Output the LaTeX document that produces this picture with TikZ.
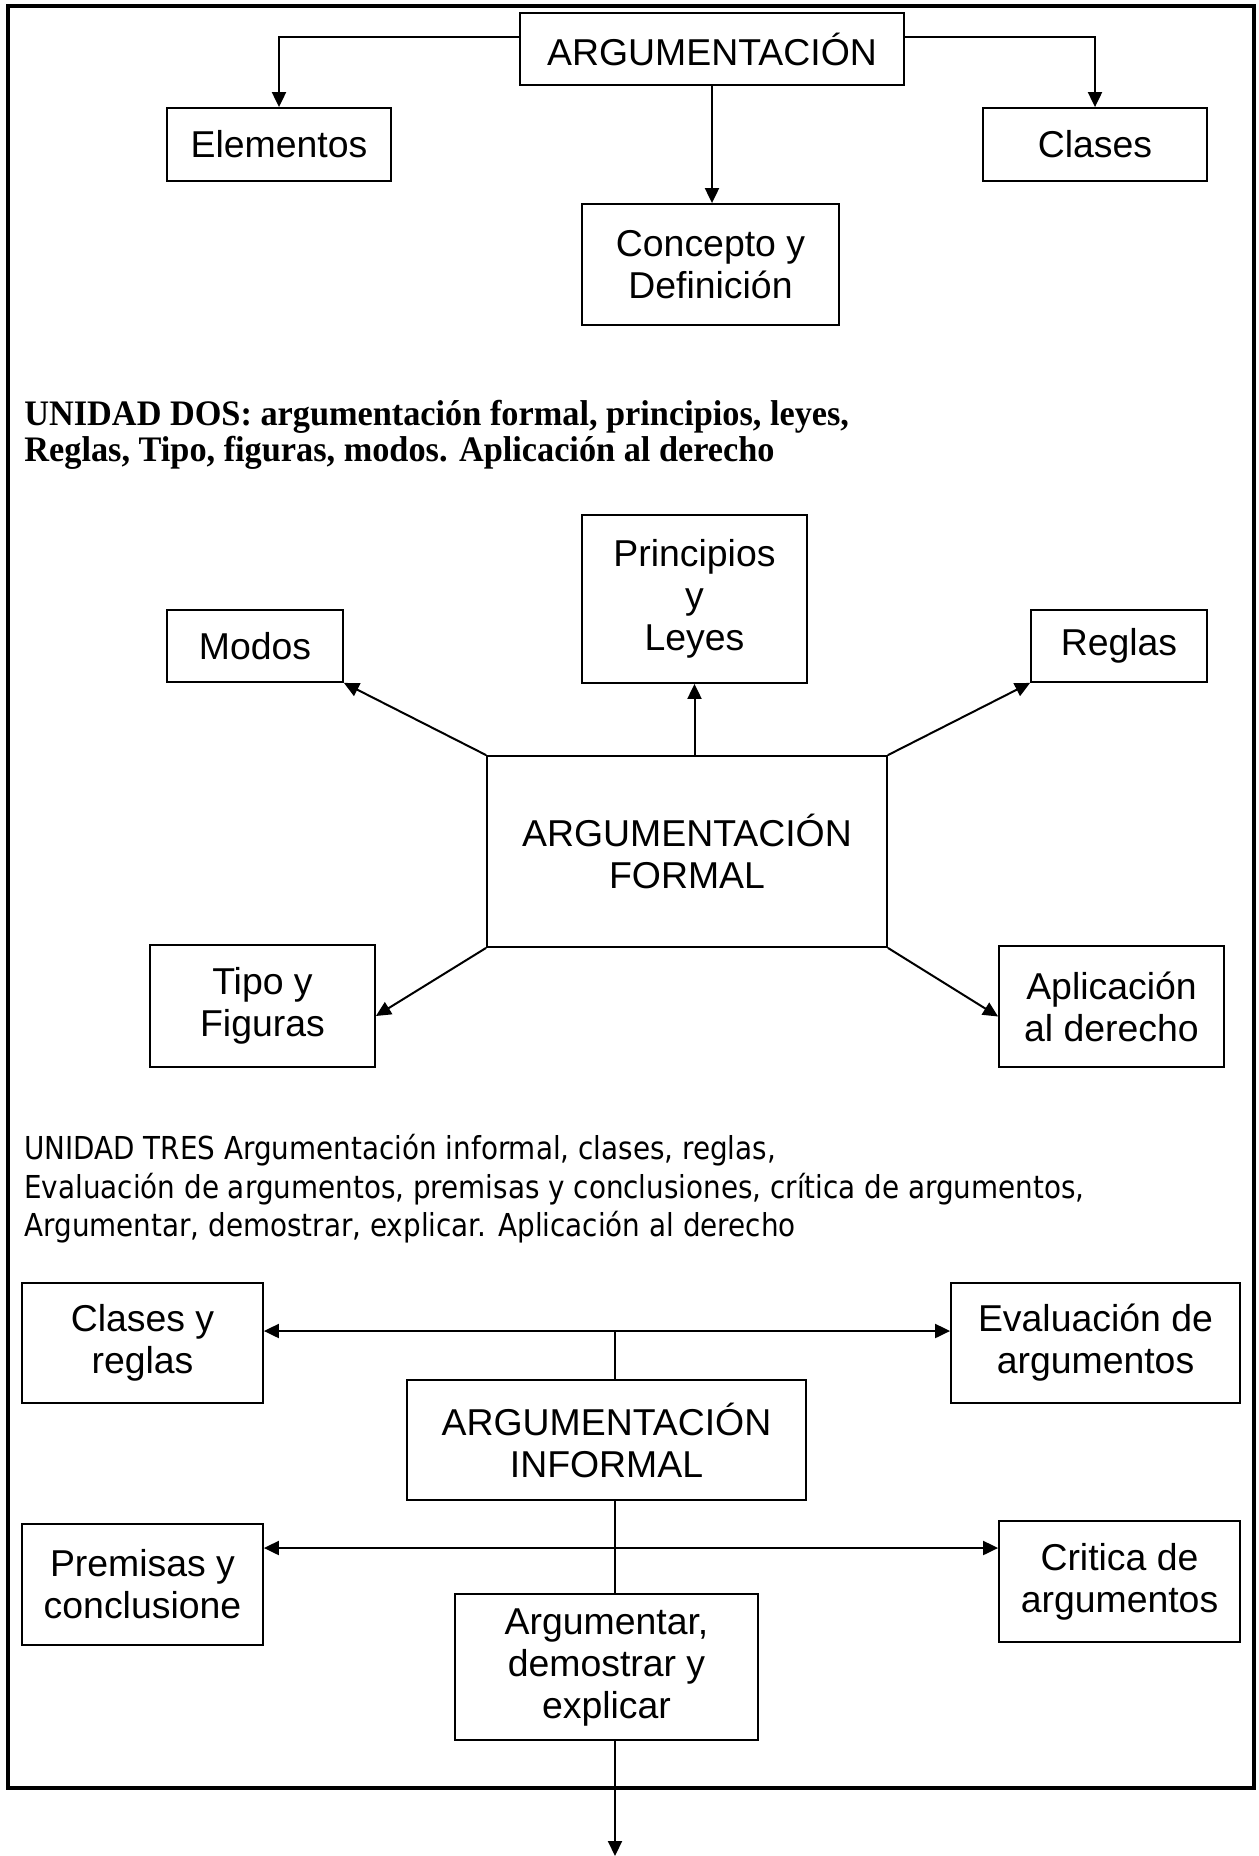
\documentclass[tikz,border=0pt]{standalone}
\usepackage{fontspec}
\setmainfont{Liberation Sans}
\newfontfamily\serifb[FakeStretch=0.955]{Liberation Serif}
\newfontfamily\tahoma[FakeStretch=0.88]{DejaVu Sans}
\usetikzlibrary{arrows.meta}
\tikzset{
  bx/.style={draw, line width=0.9pt, inner sep=0pt, align=center,
    font=\fontsize{18.7}{21}\selectfont},
  conn/.style={line width=1pt},
  arr/.style={conn, -{Triangle[length=7.5pt,width=7pt]}},
  darr/.style={conn, {Triangle[length=7.5pt,width=7pt]}-{Triangle[length=7.5pt,width=7pt]}},
  frame/.style={line width=2pt},
  hdtwo/.style={anchor=base west, inner sep=0pt, font=\serifb\bfseries\fontsize{17.95}{19}\selectfont},
  hdthree/.style={anchor=base west, inner sep=0pt, font=\tahoma\fontsize{15.8}{18}\selectfont}
}
\begin{document}
\begin{tikzpicture}[x=0.5pt,y=-0.5pt]
\useasboundingbox (0,0) rectangle (1258,1856);
\fill[white] (0,0) rectangle (1258,1856);
\draw[frame] (8,6) rectangle (1254,1788);

% --- Unidad uno ---
\node[bx, minimum width=192pt, minimum height=36pt] (arg) at (712,49) {ARGUMENTACIÓN};
\node[bx, minimum width=112pt, minimum height=36.5pt] (elem) at (279,144.5) {Elementos};
\node[bx, minimum width=112pt, minimum height=36.5pt] (clas) at (1095,144.5) {Clases};
\node[bx, minimum width=128.5pt, minimum height=60.5pt] (conc) at (710.5,264.5) {Concepto y\\Definición};
\draw[arr] ([yshift=6pt]arg.west) -| (elem.north);
\draw[arr] ([yshift=6pt]arg.east) -| (clas.north);
\draw[arr] (arg.south) -- (arg.south |- conc.north);

% --- Unidad dos ---
\node[hdtwo] (u2a) at (24,425) {UNIDAD DOS: argumentación formal, principios, leyes,};
\node[hdtwo] (u2b) at (24,461) {Reglas, Tipo, figuras, modos. Aplicación al derecho};

\node[bx, minimum width=112.5pt, minimum height=84pt] (prin) at (694.5,599) {Principios\\y\\Leyes};
\node[bx, minimum width=88pt, minimum height=36pt] (modos) at (255,646) {Modos};
\node[bx, minimum width=88pt, minimum height=36pt] (reglas) at (1119,646) {Reglas};
\node[bx, minimum width=200pt, minimum height=95.5pt] (formal) at (687,851.5) {ARGUMENTACIÓN\\FORMAL};
\node[bx, minimum width=112.5pt, minimum height=61pt] (tipo) at (262.5,1006) {Tipo y\\Figuras};
\node[bx, minimum width=112.5pt, minimum height=60.5pt] (aplic) at (1111.5,1006.5) {Aplicación\\al derecho};
\draw[arr] (prin.south |- formal.north) -- (prin.south);
\draw[arr] (formal.north west) -- (modos.south east);
\draw[arr] (formal.north east) -- (reglas.south west);
\draw[arr] (formal.south west) -- ([yshift=-5pt]tipo.east);
\draw[arr] (formal.south east) -- ([yshift=-5pt]aplic.west);

% --- Unidad tres ---
\node[hdthree] (u3a) at (24,1159.5) {UNIDAD TRES Argumentación informal, clases, reglas,};
\node[hdthree] (u3b) at (24,1198) {Evaluación de argumentos, premisas y conclusiones, crítica de argumentos,};
\node[hdthree] (u3c) at (24,1236.5) {Argumentar, demostrar, explicar. Aplicación al derecho};

\node[bx, minimum width=120.5pt, minimum height=60pt] (cyr) at (142.5,1343) {Clases y\\reglas};
\node[bx, minimum width=144.5pt, minimum height=60pt] (eval) at (1095.5,1343) {Evaluación de\\argumentos};
\node[bx, minimum width=199.5pt, minimum height=60pt] (inf) at (606.5,1440) {ARGUMENTACIÓN\\INFORMAL};
\node[bx, minimum width=120.5pt, minimum height=60.5pt] (prem) at (142.5,1584.5) {Premisas y\\conclusione};
\node[bx, minimum width=120.5pt, minimum height=60.5pt] (crit) at (1119.5,1581.5) {Critica de\\argumentos};
\node[bx, minimum width=151.5pt, minimum height=73pt] (argu) at (606.5,1667) {Argumentar,\\demostrar y\\explicar};

\coordinate (j1) at (615,1331);
\coordinate (j2) at (615,1548);
\coordinate (tip) at (615,1856);
\draw[darr] (cyr.east |- j1) -- (eval.west |- j1);
\draw[darr] (prem.east |- j2) -- (crit.west |- j2);
\draw[conn] (j1) -- (j1 |- inf.north);
\draw[conn] (j1 |- inf.south) -- (j1 |- argu.north);
\draw[arr] (j1 |- argu.south) -- (tip);
\end{tikzpicture}
\end{document}
